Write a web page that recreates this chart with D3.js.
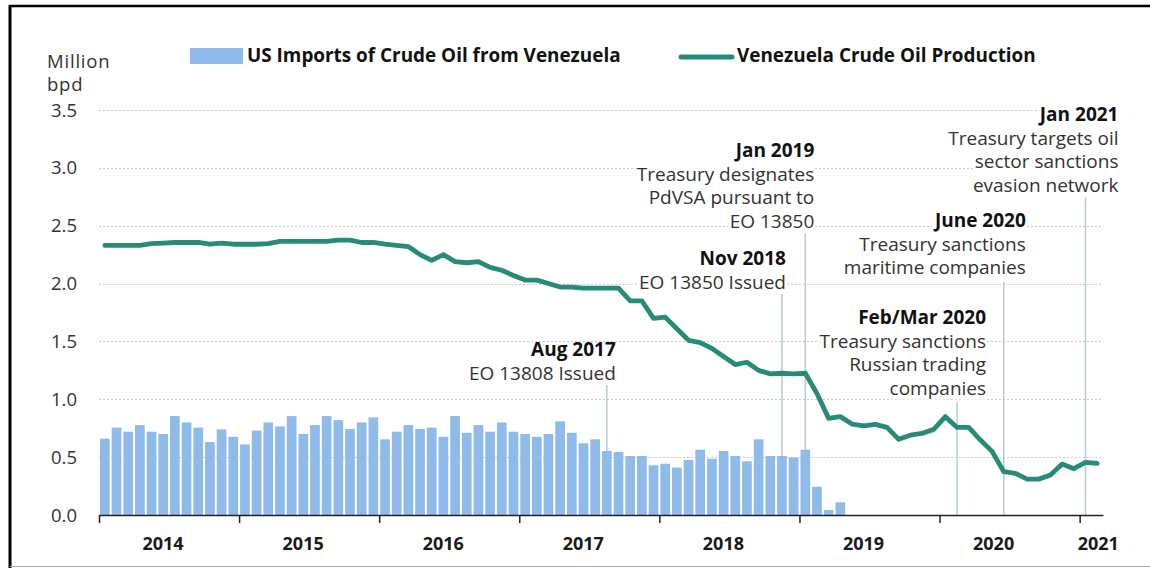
<!DOCTYPE html>
<html><head><meta charset="utf-8">
<script src="https://cdn.jsdelivr.net/npm/d3@7"></script>
<style>
html,body{margin:0;padding:0;background:#fff;}
svg{display:block;font-family:"Open Sans",Lato,sans-serif;}
</style></head>
<body>
<svg id="c" width="1150" height="568"></svg>
<script>
// ---------- DATA ----------
const startMonth = "2014-01";
const endMonth = "2021-02";
const yearLabels = ["2014","2015","2016","2017","2018","2019","2020","2021"];
const yTicks = [0, 0.5, 1.0, 1.5, 2.0, 2.5, 3.0, 3.5];
const seriesNames = ["US Imports of Crude Oil from Venezuela", "Venezuela Crude Oil Production"];
const unitLabel = ["Million", "bpd"];

// US imports of crude oil from Venezuela (million bpd), Jan 2014 - Apr 2019
const imports = [
  0.66, 0.755, 0.72, 0.777, 0.72, 0.70, 0.855, 0.80, 0.755, 0.63, 0.74, 0.676,
  0.61, 0.73, 0.80, 0.766, 0.855, 0.70, 0.777, 0.855, 0.82, 0.743, 0.80, 0.843,
  0.654, 0.72, 0.777, 0.743, 0.755, 0.676, 0.855, 0.71, 0.777, 0.72, 0.80, 0.72,
  0.70, 0.676, 0.70, 0.81, 0.71, 0.62, 0.654, 0.553, 0.544, 0.51, 0.51, 0.43,
  0.443, 0.41, 0.475, 0.564, 0.486, 0.553, 0.51, 0.464, 0.654, 0.51, 0.51, 0.498,
  0.564, 0.244, 0.043, 0.11
];
// Venezuela crude oil production (million bpd), Jan 2014 - Feb 2021
const production = [
  2.33, 2.33, 2.33, 2.33, 2.345, 2.35, 2.355, 2.355, 2.355, 2.34, 2.35, 2.34,
  2.34, 2.34, 2.345, 2.365, 2.365, 2.365, 2.365, 2.365, 2.375, 2.375, 2.355, 2.355,
  2.34, 2.33, 2.32, 2.25, 2.20, 2.25, 2.19, 2.18, 2.19, 2.14, 2.115, 2.07,
  2.03, 2.03, 2.00, 1.97, 1.97, 1.96, 1.96, 1.96, 1.96, 1.85, 1.85, 1.70,
  1.71, 1.61, 1.51, 1.49, 1.44, 1.37, 1.30, 1.32, 1.25, 1.22, 1.225, 1.22,
  1.225, 1.05, 0.835, 0.85, 0.786, 0.77, 0.783, 0.757, 0.654, 0.69, 0.705, 0.74,
  0.85, 0.757, 0.757, 0.648, 0.55, 0.374, 0.36, 0.31, 0.31, 0.345, 0.44, 0.40,
  0.455, 0.446
];
const annotationMonths = ["2017-08", "2018-11", "2019-01", "2020-02", "2020-06", "2021-01"];
const annotationTitles = ["Aug 2017", "Nov 2018", "Jan 2019", "Feb/Mar 2020", "June 2020", "Jan 2021"];
const annotationTexts = [
  ["EO 13808 Issued"],
  ["EO 13850 Issued"],
  ["Treasury designates", "PdVSA pursuant to", "EO 13850"],
  ["Treasury sanctions", "Russian trading", "companies"],
  ["Treasury sanctions", "maritime companies"],
  ["Treasury targets oil", "sector sanctions", "evasion network"]
];

// ---------- LAYOUT (not data) ----------
const C = {
  left: 99, right: 1103, top: 110, bottom: 515,
  bar: "#8fbbeb", line: "#278b77", grid: "#c9c9c9", annLine: "#b9cbd5",
  text: "#333333"
};
// header baseline, right-edge offset from marker line, marker line top
const annLayout = [
  {base: 356, dx: 9,  top: 385},
  {base: 265, dx: 4,  top: 294},
  {base: 157, dx: 9,  top: 233},
  {base: 324, dx: 29, top: 402},
  {base: 227, dx: 22, top: 282},
  {base: 121, dx: 33, top: 197}
];
const lineGap = 23.5;

// ---------- CHART ----------
const fmt = d3.timeFormat("%Y-%m");
const parse = d3.timeParse("%Y-%m");
const months = d3.timeMonth.range(parse(startMonth), d3.timeMonth.offset(parse(endMonth), 1)).map(fmt);

const svg = d3.select("#c");
const x = d3.scaleBand().domain(months).range([C.left, C.right]).paddingInner(0.17).paddingOuter(0.085);
const xb = d3.scaleBand().domain(months).range([C.left, C.right]);
const y = d3.scaleLinear().domain([0, 3.5]).range([C.bottom, C.top]);

// frame
svg.append("line").attr("x1", 10).attr("x2", 10).attr("y1", 5).attr("y2", 568).attr("stroke", "#000").attr("stroke-width", 3);
svg.append("line").attr("x1", 9).attr("x2", 1150).attr("y1", 6).attr("y2", 6).attr("stroke", "#000").attr("stroke-width", 2.5);
svg.append("line").attr("x1", 10).attr("x2", 1150).attr("y1", 566.5).attr("y2", 566.5).attr("stroke", "#aaa").attr("stroke-width", 1);

// gridlines
svg.append("g").selectAll("line").data(yTicks.filter(d => d > 0)).join("line")
  .attr("x1", C.left).attr("x2", C.right)
  .attr("y1", d => Math.round(y(d)) + 0.5).attr("y2", d => Math.round(y(d)) + 0.5)
  .attr("stroke", C.grid).attr("stroke-width", 1).attr("stroke-dasharray", "2,2");

// y tick labels
svg.append("g").selectAll("text").data(yTicks).join("text")
  .attr("x", 77).attr("y", d => y(d) + 6.5)
  .attr("text-anchor", "end").attr("font-size", 18.5).attr("fill", C.text)
  .text(d => d3.format(".1f")(d));

// unit label
svg.append("g").selectAll("text").data(unitLabel).join("text")
  .attr("x", 47).attr("y", (d, i) => 68 + i * 23)
  .attr("font-size", 18.5).attr("letter-spacing", 0.8).attr("fill", C.text).text(d => d);

// annotation marker lines (behind)
const annG = svg.append("g");
annotationMonths.forEach((m, i) => {
  const lx = xb(m) + xb.bandwidth() / 2;
  annG.append("line").attr("x1", lx).attr("x2", lx)
    .attr("y1", annLayout[i].top).attr("y2", C.bottom)
    .attr("stroke", C.annLine).attr("stroke-width", 1.5);
});

// bars
svg.append("g").selectAll("rect").data(imports).join("rect")
  .attr("x", (d, i) => x(months[i])).attr("width", x.bandwidth())
  .attr("y", d => y(d)).attr("height", d => y(0) - y(d))
  .attr("fill", C.bar);

// x axis
const xl = d3.scaleLinear().domain([0, months.length]).range([C.left, C.right]);
const yearStarts = months.map((m, i) => m.endsWith("-01") ? i : -1).filter(i => i >= 0);
const ax = svg.append("g").attr("transform", `translate(0,${C.bottom})`)
  .call(d3.axisBottom(xl).tickValues(yearStarts).tickFormat("").tickSize(8).tickSizeOuter(0));
ax.select(".domain").attr("stroke", "#222").attr("stroke-width", 1.5);
ax.selectAll(".tick line").attr("stroke", "#222").attr("stroke-width", 1.5);

// year labels
const labelShift = [-6, -6, -6, -6, -6, -6, -16, 7];
svg.append("g").selectAll("text").data(yearLabels).join("text")
  .attr("x", (d, i) => {
    const s = xl(yearStarts[i]);
    const e = xl(Math.min(yearStarts[i] + 12, months.length));
    return (s + e) / 2 + labelShift[i];
  })
  .attr("y", 550).attr("text-anchor", "middle")
  .attr("font-size", 18).attr("font-weight", "bold").attr("fill", "#1a1a1a")
  .text(d => d);

// production line
svg.append("path").datum(production)
  .attr("d", d3.line().x((d, i) => xb(months[i]) + xb.bandwidth() / 2).y(d => y(d)))
  .attr("fill", "none").attr("stroke", C.line).attr("stroke-width", 4.8)
  .attr("stroke-linejoin", "round").attr("stroke-linecap", "round");

// annotation texts with white backing
const txtG = svg.append("g");
annotationMonths.forEach((m, i) => {
  const lx = xb(m) + xb.bandwidth() / 2;
  const rx = lx + annLayout[i].dx;
  const lines = [annotationTitles[i]].concat(annotationTexts[i]);
  lines.forEach((t, j) => {
    const by = annLayout[i].base + j * lineGap;
    const g = txtG.append("g");
    const rect = g.append("rect").attr("fill", "#fff");
    const tx = g.append("text").attr("x", rx).attr("y", by)
      .attr("text-anchor", "end").attr("font-size", 19)
      .attr("font-weight", j === 0 ? "bold" : "normal")
      .attr("fill", j === 0 ? "#111" : C.text).text(t);
    const bb = tx.node().getBBox();
    rect.attr("x", bb.x - 1).attr("width", bb.width + 2).attr("y", by - 14).attr("height", 19);
  });
});

// legend
const lg = svg.append("g");
lg.append("rect").attr("x", 190).attr("y", 48).attr("width", 53).attr("height", 16).attr("fill", C.bar);
lg.append("text").attr("x", 247).attr("y", 62).attr("font-size", 18.9).attr("font-weight", "bold").attr("fill", "#111").text(seriesNames[0]);
lg.append("line").attr("x1", 681).attr("x2", 732).attr("y1", 57).attr("y2", 57).attr("stroke", C.line).attr("stroke-width", 5).attr("stroke-linecap", "round");
lg.append("text").attr("x", 737).attr("y", 62).attr("font-size", 18.9).attr("font-weight", "bold").attr("fill", "#111").text(seriesNames[1]);
</script>
</body></html>
